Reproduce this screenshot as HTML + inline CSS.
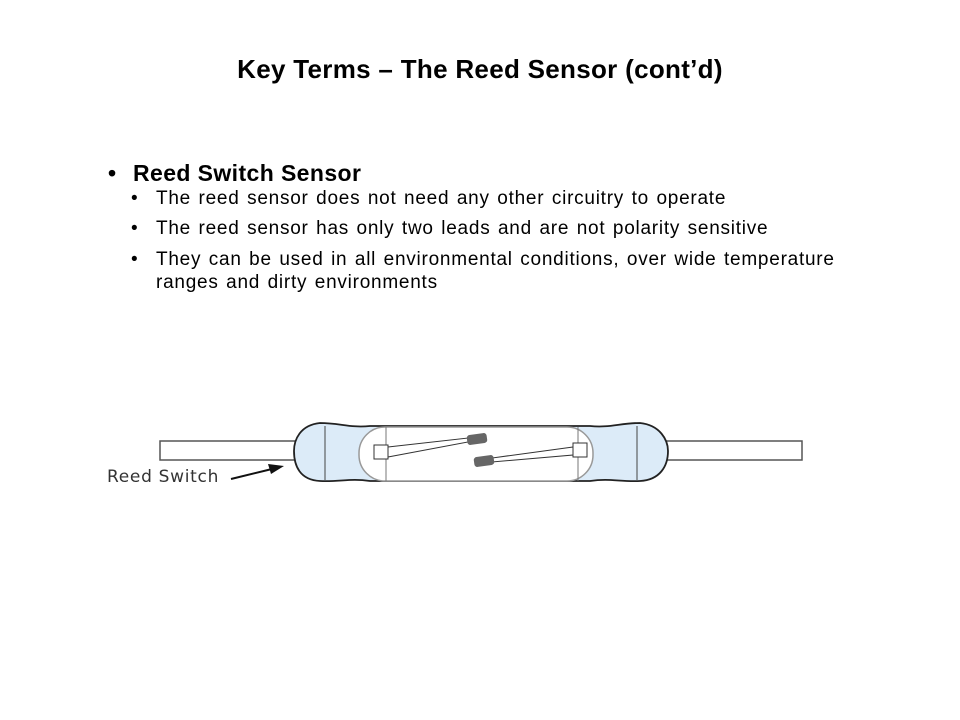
<!DOCTYPE html>
<html><head><style>
body{margin:0;width:960px;height:720px;background:#fff;position:relative;font-family:"Liberation Sans",sans-serif;color:#000;overflow:hidden}
.t{position:absolute;white-space:nowrap;line-height:1}
.s{font-size:19px;letter-spacing:0.75px;word-spacing:1.5px}
</style></head><body>
<div class="t" style="left:0;width:960px;text-align:center;top:56px;font-size:26px;font-weight:bold;letter-spacing:0.3px">Key Terms – The Reed Sensor (cont’d)</div>
<div class="t" style="left:108px;top:162px;font-size:23px;font-weight:bold">•</div>
<div class="t" style="left:133px;top:162px;font-size:23px;font-weight:bold;letter-spacing:0.4px">Reed Switch Sensor</div>
<div class="t s" style="left:131px;top:189px">•</div>
<div class="t s" style="left:156px;top:189px">The reed sensor does not need any other circuitry to operate</div>
<div class="t s" style="left:131px;top:219px">•</div>
<div class="t s" style="left:131px;top:250px">•</div>
<div class="t s" style="left:156px;top:219px">The reed sensor has only two leads and are not polarity sensitive</div>
<div class="t s" style="left:156px;line-height:23px;top:248px">They can be used in all environmental conditions, over wide temperature<br>ranges and dirty environments</div>
<svg width="960" height="720" style="position:absolute;left:0;top:0">
<rect x="160" y="441" width="142" height="19" fill="#fff" stroke="#555" stroke-width="1.5"/>
<rect x="660" y="441" width="142" height="19" fill="#fff" stroke="#555" stroke-width="1.5"/>
<path d="M320,423 C340,423 350,428 370,426 L590,426 C610,428 620,423 640,423 C660,425 668,440 668,451 C668,466 660,480 640,481 C620,482 610,478 590,481 L370,481 C350,478 340,482 320,481 C300,480 294,466 294,451 C294,440 300,425 320,423 Z" fill="#dcebf8" stroke="#222" stroke-width="1.8"/>
<rect x="359" y="427" width="234" height="54" rx="26" fill="#fff" stroke="#999" stroke-width="1.5"/>
<line x1="325" y1="426" x2="325" y2="480" stroke="#444"/>
<line x1="637" y1="426" x2="637" y2="480" stroke="#444"/>
<line x1="386" y1="427" x2="386" y2="481" stroke="#777"/>
<line x1="578" y1="427" x2="578" y2="481" stroke="#777"/>
<rect x="374" y="445" width="14" height="14" fill="#fff" stroke="#333"/>
<rect x="573" y="443" width="14" height="14" fill="#fff" stroke="#333"/>
<path d="M388,447 L468,438 L468,442 L388,457 Z" fill="#fff" stroke="#333"/>
<path d="M573,447 L492,458 L492,462 L573,455 Z" fill="#fff" stroke="#333"/>
<rect x="467" y="434" width="20" height="10" rx="3" fill="#666" transform="rotate(-8 477 439)"/>
<rect x="474" y="456" width="20" height="10" rx="3" fill="#666" transform="rotate(-8 484 461)"/>
<text x="107" y="482" font-family="DejaVu Sans,sans-serif" font-size="17" letter-spacing="0.7" fill="#333">Reed Switch</text>
<line x1="231" y1="479" x2="272" y2="469" stroke="#111" stroke-width="2"/>
<polygon points="284,466 268,464 271,474" fill="#111"/>
</svg>
</body></html>
